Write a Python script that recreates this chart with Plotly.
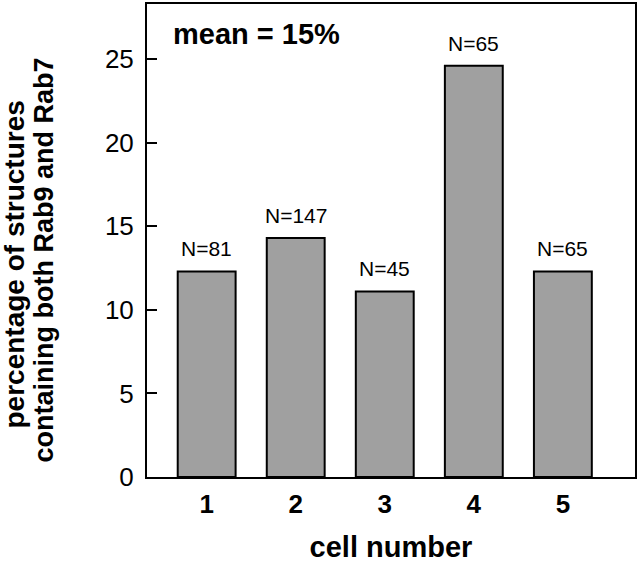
import plotly.graph_objects as go

cells = [1, 2, 3, 4, 5]
percent = [12.3, 14.3, 11.1, 24.6, 12.3]
n_labels = ["N=81", "N=147", "N=45", "N=65", "N=65"]
y_ticks = [0, 5, 10, 15, 20, 25]
x_tick_labels = ["1", "2", "3", "4", "5"]
mean_text = "mean = 15%"
y_title_1 = "percentage of structures"
y_title_2 = "containing both Rab9 and Rab7"
x_title = "cell number"

FONT = "Liberation Sans, Arial, Helvetica, sans-serif"

fig = go.Figure()
fig.add_trace(go.Bar(
    x=cells, y=percent, width=0.65,
    marker=dict(color="#a0a0a0", line=dict(color="black", width=2)),
    hoverinfo="skip",
))

for c, v, t in zip(cells, percent, n_labels):
    fig.add_annotation(x=c, y=v, text=t, showarrow=False, xanchor="center",
                       yanchor="bottom", yshift=9,
                       font=dict(family=FONT, size=21, color="black"))

fig.add_annotation(x=0, y=1, xref="paper", yref="paper", xshift=24, yshift=-30,
                   text="<b>" + mean_text + "</b>", showarrow=False,
                   xanchor="left", yanchor="middle",
                   font=dict(family=FONT, size=29, color="black"))

# two-line y title as rotated annotations
fig.add_annotation(x=0, y=0.5, xref="paper", yref="paper", xshift=-133, yshift=-24,
                   text="<b>" + y_title_1 + "</b>", showarrow=False, textangle=-90,
                   xanchor="center", yanchor="middle",
                   font=dict(family=FONT, size=28, color="black"))
fig.add_annotation(x=0, y=0.5, xref="paper", yref="paper", xshift=-104, yshift=-20,
                   text="<b>" + y_title_2 + "</b>", showarrow=False, textangle=-90,
                   xanchor="center", yanchor="middle",
                   font=dict(family=FONT, size=27, color="black"))

fig.update_layout(
    width=640, height=563,
    margin=dict(l=147, r=5, t=2, b=86),
    paper_bgcolor="white", plot_bgcolor="white",
    showlegend=False,
    font=dict(family=FONT, color="black"),
    xaxis=dict(
        range=[0.33, 5.81],
        tickvals=cells, ticktext=["<b>" + s + "</b>" for s in x_tick_labels],
        tickfont=dict(family=FONT, size=26, color="black"),
        ticks="", showgrid=False, zeroline=False,
        showline=True, mirror=True, linecolor="black", linewidth=2,
        ticklabelstandoff=3,
        title=dict(text="<b>" + x_title + "</b>", standoff=20,
                   font=dict(family=FONT, size=29, color="black")),
    ),
    yaxis=dict(
        range=[0, 28.3],
        tickvals=y_ticks,
        tickfont=dict(family=FONT, size=26, color="black"),
        ticks="inside", ticklen=10, tickwidth=1.5, tickcolor="black",
        showgrid=False, zeroline=False,
        showline=True, mirror=True, linecolor="black", linewidth=2,
        ticklabelstandoff=6,
    ),
)

fig.write_html("out.html", config={"displayModeBar": False},
               post_script="document.body.style.margin='0';")
